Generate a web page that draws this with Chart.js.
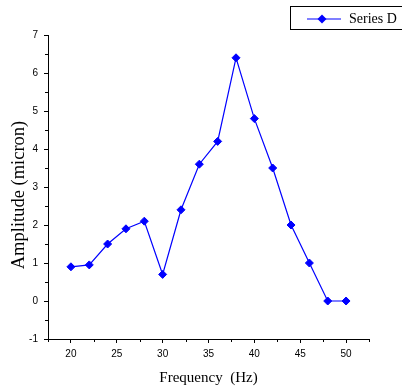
<!DOCTYPE html>
<html>
<head>
  <meta charset="utf-8">
  <title>Series D amplitude</title>
  <script src="https://cdnjs.cloudflare.com/ajax/libs/Chart.js/4.4.0/chart.umd.min.js"></script>
  <style>
    body { margin: 0; background: #fff; }
    .wrap { width: 402px; height: 387px; }
  </style>
</head>
<body>
  <div class="wrap"><canvas id="c"></canvas></div>
  <script>
    // data
    const freq = [20, 22, 24, 26, 28, 30, 32, 34, 36, 38, 40, 42, 44, 46, 48, 50];
    const amp = [0.9, 0.95, 1.5, 1.9, 2.1, 0.7, 2.4, 3.6, 4.2, 6.4, 4.8, 3.5, 2.0, 1.0, 0, 0];
    const seriesName = 'Series D';
    const xMajorTicks = [20, 25, 30, 35, 40, 45, 50];
    const xMinorTicks = [17.5, 22.5, 27.5, 32.5, 37.5, 42.5, 47.5, 52.5];
    const yMinorTicks = [-0.5, 0.5, 1.5, 2.5, 3.5, 4.5, 5.5, 6.5];
    const yTitle = 'Amplitude (micron)';

    const blue = '#0000ff';
    const sans = "'Liberation Sans', Arial, sans-serif";
    const serif = "'Liberation Serif', 'Times New Roman', serif";

    // small half-step ticks on both axes, plus the y title
    const axisExtras = {
      id: 'axisExtras',
      afterDraw(chart) {
        const c = chart.ctx, xs = chart.scales.x, ys = chart.scales.y;
        const a = chart.chartArea;
        c.save();
        c.strokeStyle = '#000';
        c.lineWidth = 1;
        c.beginPath();
        xMinorTicks.forEach(v => {
          const px = Math.round(xs.getPixelForValue(v)) + 0.5;
          c.moveTo(px, a.bottom);
          c.lineTo(px, a.bottom + 3);
        });
        yMinorTicks.forEach(v => {
          const py = Math.round(ys.getPixelForValue(v)) + 0.5;
          c.moveTo(a.left, py);
          c.lineTo(a.left - 3, py);
        });
        c.stroke();

        // y title sits a bit below the axis middle in the original
        c.translate(19, (a.top + a.bottom) / 2 + 8);
        c.rotate(-Math.PI / 2);
        c.fillStyle = '#000';
        c.font = '18.5px ' + serif;
        c.textAlign = 'center';
        c.textBaseline = 'middle';
        c.fillText(yTitle, 0, 0);
        c.restore();
      }
    };

    // boxed legend in the top right corner
    const boxLegend = {
      id: 'boxLegend',
      afterDraw(chart) {
        const c = chart.ctx;
        c.save();
        c.strokeStyle = '#000';
        c.lineWidth = 1;
        c.strokeRect(290.5, 6.5, 120, 23);
        c.strokeStyle = blue;
        c.lineWidth = 1.2;
        c.beginPath();
        c.moveTo(307, 19);
        c.lineTo(341, 19);
        c.stroke();
        c.fillStyle = blue;
        c.beginPath();
        c.moveTo(322, 14.5);
        c.lineTo(326.5, 19);
        c.lineTo(322, 23.5);
        c.lineTo(317.5, 19);
        c.closePath();
        c.fill();
        c.fillStyle = '#000';
        c.font = '14px ' + serif;
        c.textBaseline = 'middle';
        c.fillText(seriesName, 349, 19.5);
        c.restore();
      }
    };

    new Chart(document.getElementById('c'), {
      type: 'line',
      data: {
        datasets: [{
          label: seriesName,
          data: freq.map((f, i) => ({ x: f, y: amp[i] })),
          borderColor: blue,
          backgroundColor: blue,
          borderWidth: 1.2,
          pointStyle: 'rectRot',
          pointRadius: 4,
          pointBorderWidth: 1,
          pointHoverRadius: 4,
          tension: 0,
          fill: false
        }]
      },
      options: {
        responsive: true,
        maintainAspectRatio: false,
        animation: false,
        layout: { padding: { top: 35, right: 33, left: 0, bottom: 0 } },
        plugins: {
          legend: { display: false },
          tooltip: { enabled: false }
        },
        scales: {
          x: {
            type: 'linear',
            min: 17.5,
            max: 52.5,
            afterFit(s) { s.height = 48; },
            afterBuildTicks(s) { s.ticks = xMajorTicks.map(v => ({ value: v })); },
            ticks: {
              color: '#000',
              padding: 5,
              maxRotation: 0,
              font: { family: sans, size: 10 }
            },
            grid: { drawOnChartArea: false, tickLength: 4, color: '#000' },
            border: { color: '#000', width: 1 },
            title: {
              display: true,
              text: 'Frequency  (Hz)',
              color: '#000',
              font: { family: serif, size: 15 },
              padding: 0
            }
          },
          y: {
            min: -1,
            max: 7,
            afterFit(s) { s.width = 48; },
            ticks: {
              stepSize: 1,
              color: '#000',
              padding: 6,
              font: { family: sans, size: 10 }
            },
            grid: { drawOnChartArea: false, tickLength: 4, color: '#000' },
            border: { color: '#000', width: 1 }
          }
        }
      },
      plugins: [axisExtras, boxLegend]
    });
  </script>
</body>
</html>
